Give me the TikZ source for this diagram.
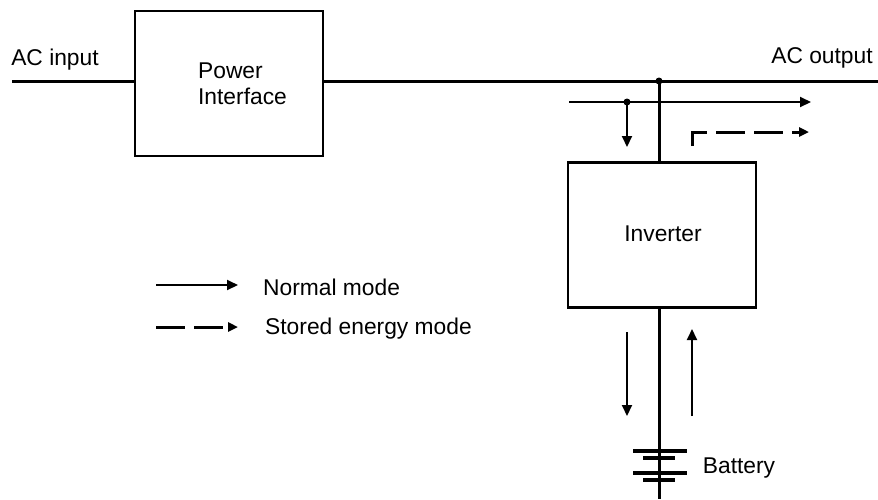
\documentclass[tikz,border=0pt]{standalone}
\usepackage{fontspec}
\setmainfont{Liberation Sans}
\usetikzlibrary{arrows.meta}
\begin{document}
\begin{tikzpicture}[x=1pt,y=-1pt,
  wire/.style={line width=3pt},
  blk/.style={draw,line width=2.6pt,minimum width=188pt,minimum height=145pt,inner sep=0pt},
  flow/.style={line width=2pt,-{Triangle[length=11pt,width=10pt]}},
  dflow/.style={line width=3pt,-{Triangle[length=10pt,width=9pt]},dash pattern=on 29pt off 9pt},
  lbl/.style={font=\fontsize{22.8}{26}\selectfont,inner sep=0pt},
  dot/.style={circle,fill,inner sep=0pt,minimum size=7pt},
  plate/.style={line width=3.6pt}]
\useasboundingbox (0,0) rectangle (878,499);
% blocks
\node[blk] (pi) at (229,83.5) {};
\node[lbl,align=left] (pitxt) at (242.5,84) {Power\\Interface};
\node[blk] (inv) at (662,235) {};
\node[lbl] (invtxt) at (663,234) {Inverter};
% labels
\node[lbl] (acin) at (55,60) {AC input};
\node[lbl] (acout) at (822,58) {AC output};
\node[lbl] (bat) at (739,468) {Battery};
% main wires
\coordinate (inl) at (12,81);
\coordinate (outr) at (878,81);
\coordinate (j) at (659,81);
\coordinate (bot) at (659,499);
\draw[wire] (inl) -- (inl -| pi.west);
\draw[wire] (outr -| pi.east) -- (outr);
\draw[wire] (j) -- (j |- inv.north);
\draw[wire] (j |- inv.south) -- (bot);
\node[dot] (jd) at (j) {};
% battery plates
\coordinate (p1l) at (633,451); \coordinate (p1r) at (687,451);
\coordinate (p2l) at (643,458); \coordinate (p2r) at (675,458);
\coordinate (p3l) at (633,473); \coordinate (p3r) at (687,473);
\coordinate (p4l) at (643,480); \coordinate (p4r) at (675,480);
\draw[plate] (p1l) -- (p1r);
\draw[plate] (p2l) -- (p2r);
\draw[plate] (p3l) -- (p3r);
\draw[plate] (p4l) -- (p4r);
% flow arrows top
\coordinate (f1s) at (569,102);
\coordinate (f1e) at (811,102);
\coordinate (f2) at (627,102);
\coordinate (f2e) at (627,147);
\draw[flow] (f1s) -- (f1e);
\node[dot] (f2d) at (f2) {};
\draw[flow] (f2) -- (f2e);
\coordinate (d1) at (692,146);
\coordinate (d2) at (692,132);
\coordinate (d3) at (809,132);
\draw[dflow] (d1) -- (d2) -- (d3);
% flow arrows bottom
\coordinate (b1s) at (627,332); \coordinate (b1e) at (627,416);
\coordinate (b2s) at (692,416); \coordinate (b2e) at (692,329);
\draw[flow] (b1s) -- (b1e);
\draw[flow] (b2s) -- (b2e);
% legend
\coordinate (l1s) at (156,285); \coordinate (l1e) at (238,285);
\coordinate (l2s) at (156,327); \coordinate (l2e) at (238,327);
\draw[flow] (l1s) -- (l1e);
\draw[dflow] (l2s) -- (l2e);
\node[lbl,anchor=west] (nm) at (263,287) {Normal mode};
\node[lbl,anchor=west] (sm) at (265,329) {Stored energy mode};
\end{tikzpicture}
\end{document}
